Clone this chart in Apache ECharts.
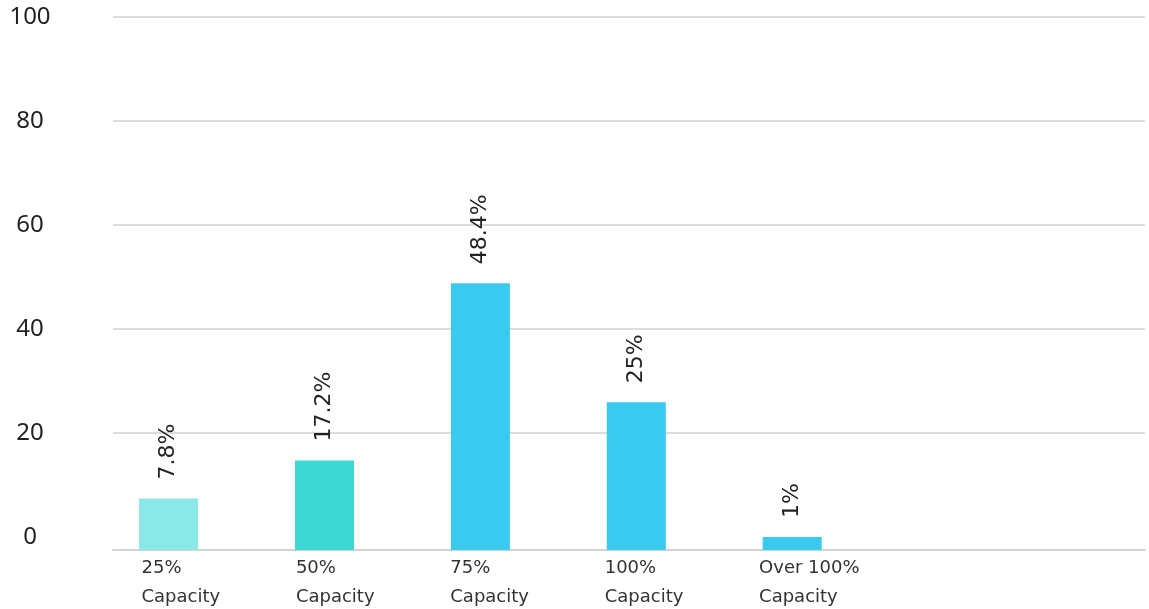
<!DOCTYPE html>
<html><head><meta charset="utf-8">
<script src="https://cdn.jsdelivr.net/npm/echarts@6/dist/echarts.min.js"></script>
<style>html,body{margin:0;padding:0;background:#fff}#c{width:1149px;height:609px}</style>
</head><body><div id="c"></div>
<script>
const categories = ['25%\nCapacity', '50%\nCapacity', '75%\nCapacity', '100%\nCapacity', 'Over 100%\nCapacity'];
const valueLabels = [7.8, 17.2, 48.4, 25, 1];
// bar heights as drawn, measured above the chart baseline (same units as the y axis)
const barHeights = [9.9, 17.2, 51.3, 28.4, 2.5];
const barColors = ['#8ae8e7', '#3dd8d4', '#3ac9ef', '#3ac9ef', '#3ac9ef'];
const yMin = 0, yMax = 100, yStep = 20;

const chart = echarts.init(document.getElementById('c'), null, {renderer: 'canvas'});
chart.setOption({
  animation: false,
  backgroundColor: '#fff',
  grid: [
    {left: 113, right: 4, top: 17, bottom: 72, outerBoundsMode: 'none'},
    {left: 90.65, width: 779.5, top: 17, bottom: 59, outerBoundsMode: 'none'},
    {left: 64.3, width: 772, top: 17, bottom: 59, outerBoundsMode: 'none'}
  ],
  xAxis: [
    {gridIndex: 0, type: 'category', data: categories, offset: 13,
     axisLine: {show: true, onZero: false, lineStyle: {color: '#d4d4d4', width: 2}},
     axisTick: {show: false}, axisLabel: {show: false}, splitLine: {show: false}},
    {gridIndex: 1, type: 'category', data: categories, show: false},
    {gridIndex: 2, type: 'category', data: categories,
     axisLine: {show: false}, axisTick: {show: false}, splitLine: {show: false},
     axisLabel: {interval: 0, align: 'left', verticalAlign: 'top', margin: 4,
       fontFamily: 'DejaVu Sans', fontSize: 18, lineHeight: 29, color: '#333'}}
  ],
  yAxis: [
    {gridIndex: 0, type: 'value', min: yMin, max: yMax, interval: yStep,
     axisLine: {show: false}, axisTick: {show: false},
     splitLine: {show: true, showMinLine: false, lineStyle: {color: '#dcdcdc', width: 2}},
     axisLabel: {align: 'center', margin: 83, fontFamily: 'Noto Sans', fontSize: 24,
       color: '#222', padding: [3, 0, 0, 0]}},
    {gridIndex: 1, type: 'value', min: 0, max: 102.5, show: false},
    {gridIndex: 2, type: 'value', min: 0, max: 1, show: false}
  ],
  series: [{
    type: 'bar',
    xAxisIndex: 1, yAxisIndex: 1,
    barWidth: 59,
    data: barHeights.map((v, i) => ({value: v, itemStyle: {color: barColors[i]}})),
    label: {
      show: true, position: 'top', rotate: 90, align: 'left', verticalAlign: 'middle',
      distance: 19, fontFamily: 'DejaVu Sans', fontSize: 22, color: '#222',
      formatter: p => valueLabels[p.dataIndex] + '%'
    }
  }]
});
</script></body></html>
